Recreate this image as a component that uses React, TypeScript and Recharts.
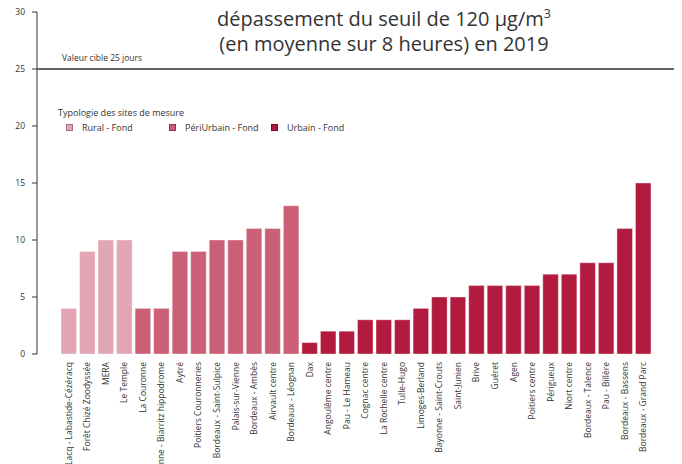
import React from 'react';
import { BarChart, Bar, XAxis, YAxis, Cell, ReferenceLine } from 'recharts';

const sites = [
  'Lacq - Labastide-Cézéracq', 'Forêt Chizé Zoodyssée', 'MERA', 'Le Temple',
  'La Couronne', 'Bayonne - Biarritz hippodrome', 'Aytré', 'Poitiers Couronneries',
  'Bordeaux - Saint-Sulpice', 'Palais-sur-Vienne', 'Bordeaux - Ambès', 'Airvault centre',
  'Bordeaux - Léognan', 'Dax', 'Angoulême centre', 'Pau - Le Hameau', 'Cognac centre',
  'La Rochelle centre', 'Tulle-Hugo', 'Limoges-Berland', 'Bayonne - Saint-Crouts',
  'Saint-Junien', 'Brive', 'Guéret', 'Agen', 'Poitiers centre', 'Périgueux',
  'Niort centre', 'Bordeaux - Talence', 'Pau - Billère', 'Bordeaux - Bassens',
  'Bordeaux - Grand Parc',
];
const days = [4, 9, 10, 10, 4, 4, 9, 9, 10, 10, 11, 11, 13, 1, 2, 2, 3, 3, 3, 4, 5, 5, 6, 6, 6, 6, 7, 7, 8, 8, 11, 15];
const types = [0, 0, 0, 0, 1, 1, 1, 1, 1, 1, 1, 1, 1, 2, 2, 2, 2, 2, 2, 2, 2, 2, 2, 2, 2, 2, 2, 2, 2, 2, 2, 2];
const typeNames = ['Rural - Fond', 'PériUrbain - Fond', 'Urbain - Fond'];
const typeColors = ['#e1a5b3', '#ca5f76', '#b21b3d'];
const typeBorders = ['#a86f7c', '#8f3548', '#6d0f24'];
const yTicks = [0, 5, 10, 15, 20, 25, 30];
const targetValue = 25;
const targetLabel = 'Valeur cible 25 jours';
const titleLines = ['Ozone : nombre de jours de', 'dépassement du seuil de 120 µg/m', '(en moyenne sur 8 heures) en 2019'];
const legendTitle = 'Typologie des sites de mesure';

const data = sites.map((s, i) => ({ site: s, jours: days[i], type: types[i] }));

const FONT = '"Open Sans", "Noto Sans", sans-serif';

const XTick = (props: any) => {
  const { x, y, payload } = props;
  const yy = y + 8;
  return (
    <text
      x={x}
      y={yy}
      transform={`rotate(-90 ${x} ${yy})`}
      textAnchor="end"
      dominantBaseline="central"
      fontSize={8.5}
      fontFamily={FONT}
      fill="#333"
    >
      {payload.value}
    </text>
  );
};

const TargetLabel = (props: any) => {
  const vb = props.viewBox || {};
  return (
    <text x={vb.x + 25} y={vb.y - 8} fontSize={8.5} fontFamily={FONT} fill="#333">
      {targetLabel}
    </text>
  );
};

const legendX = [66, 169, 271];

export default function App() {
  return (
    <div style={{ position: 'relative', width: 682, height: 464, margin: '-8px 0 0 -8px' }}>
      <BarChart
        width={682}
        height={464}
        data={data}
        margin={{ top: 12, right: 0, left: 0, bottom: 0 }}
      >
        <XAxis
          dataKey="site"
          height={110}
          interval={0}
          axisLine={false}
          tickLine={false}
          tickSize={0}
          tickMargin={0}
          padding={{ left: 22, right: 30 }}
          tick={<XTick />}
        />
        <YAxis
          width={37}
          domain={[0, 30]}
          ticks={yTicks}
          tickSize={5}
          tickMargin={7}
          stroke="#333"
          axisLine={{ stroke: '#333' }}
          tickLine={{ stroke: '#333' }}
          tick={{ fill: '#333', fontSize: 8.5, fontFamily: FONT }}
          interval={0}
        />
        <ReferenceLine y={targetValue} stroke="#333" strokeWidth={1.5} label={<TargetLabel />} />
        <Bar dataKey="jours" barSize={15.5} isAnimationActive={false} stroke="#ffffff" strokeOpacity={0.35} strokeWidth={1}>
          {data.map((d, i) => (
            <Cell key={i} fill={typeColors[d.type]} />
          ))}
        </Bar>
      </BarChart>
      <svg
        width={682}
        height={464}
        style={{ position: 'absolute', left: 0, top: 0, pointerEvents: 'none' }}
      >
        <g fontFamily={FONT} fill="#333" fontSize={20} textAnchor="middle">
          <text x={384} y={1}>{titleLines[0]}</text>
          <text x={384} y={26}>
            {titleLines[1]}
            <tspan fontSize={12.5} dy={-8}>3</tspan>
          </text>
          <text x={384} y={51}>{titleLines[2]}</text>
        </g>
        <text x={58} y={116} fontSize={9} fontFamily={FONT} fill="#333">{legendTitle}</text>
        {typeNames.map((n, i) => (
          <g key={n}>
            <rect x={legendX[i] + 0.5} y={124.5} width={6} height={6} fill={typeColors[i]} stroke={typeBorders[i]} strokeWidth={1} />
            <text x={legendX[i] + 16} y={131} fontSize={9} fontFamily={FONT} fill="#333">{n}</text>
          </g>
        ))}
      </svg>
    </div>
  );
}
